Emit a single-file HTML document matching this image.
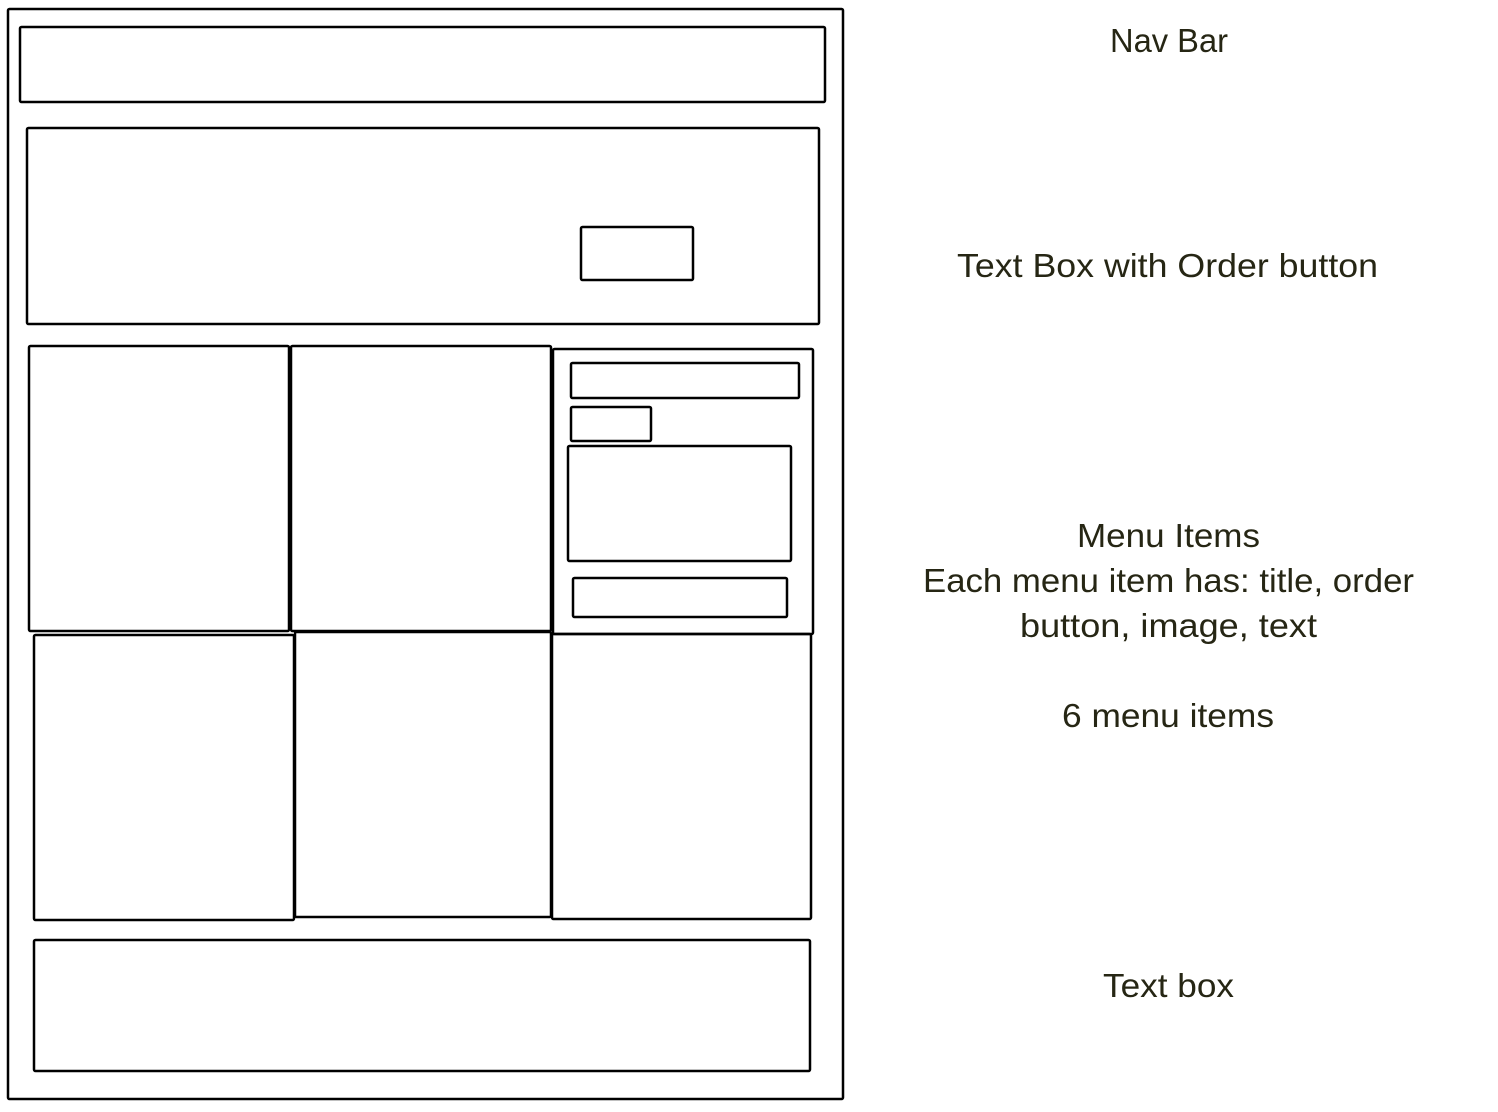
<!DOCTYPE html>
<html><head><meta charset="utf-8"><style>
html,body{margin:0;padding:0;background:#fff;}
svg{display:block;}
text{font-family:"Liberation Sans",sans-serif;font-size:33px;fill:#262614;}
</style></head><body>
<svg width="1498" height="1112" viewBox="0 0 1498 1112">
<g fill="none" stroke="#000" stroke-width="2.5">
<rect x="8" y="9" width="835" height="1090" rx="1.5"/>
<rect x="20" y="27" width="805" height="75" rx="1.5"/>
<rect x="27" y="128" width="792" height="196" rx="1.5"/>
<rect x="581" y="227" width="112" height="53" rx="1.5"/>
<rect x="29" y="346" width="260" height="285" rx="1.5"/>
<rect x="291" y="346" width="260" height="285" rx="1.5"/>
<rect x="553" y="349" width="260" height="285" rx="1.5"/>
<rect x="571" y="363" width="228" height="35" rx="1.5"/>
<rect x="571" y="407" width="80" height="34" rx="1.5"/>
<rect x="568" y="446" width="223" height="115" rx="1.5"/>
<rect x="573" y="578" width="214" height="39" rx="1.5"/>
<rect x="34" y="635" width="260" height="285" rx="1.5"/>
<rect x="295" y="632" width="256" height="285" rx="1.5"/>
<rect x="552" y="634" width="259" height="285" rx="1.5"/>
<rect x="34" y="940" width="776" height="131" rx="1.5"/>
</g>
<g>
<text x="1110" y="52" textLength="118" lengthAdjust="spacingAndGlyphs">Nav Bar</text>
<text x="957" y="277" textLength="421" lengthAdjust="spacingAndGlyphs">Text Box with Order button</text>
<text x="1077" y="547" textLength="183" lengthAdjust="spacingAndGlyphs">Menu Items</text>
<text x="923" y="592" textLength="491" lengthAdjust="spacingAndGlyphs">Each menu item has: title, order</text>
<text x="1020" y="637" textLength="297" lengthAdjust="spacingAndGlyphs">button, image, text</text>
<text x="1062" y="727" textLength="212" lengthAdjust="spacingAndGlyphs">6 menu items</text>
<text x="1103" y="997" textLength="131" lengthAdjust="spacingAndGlyphs">Text box</text>
</g>
</svg>
</body></html>
